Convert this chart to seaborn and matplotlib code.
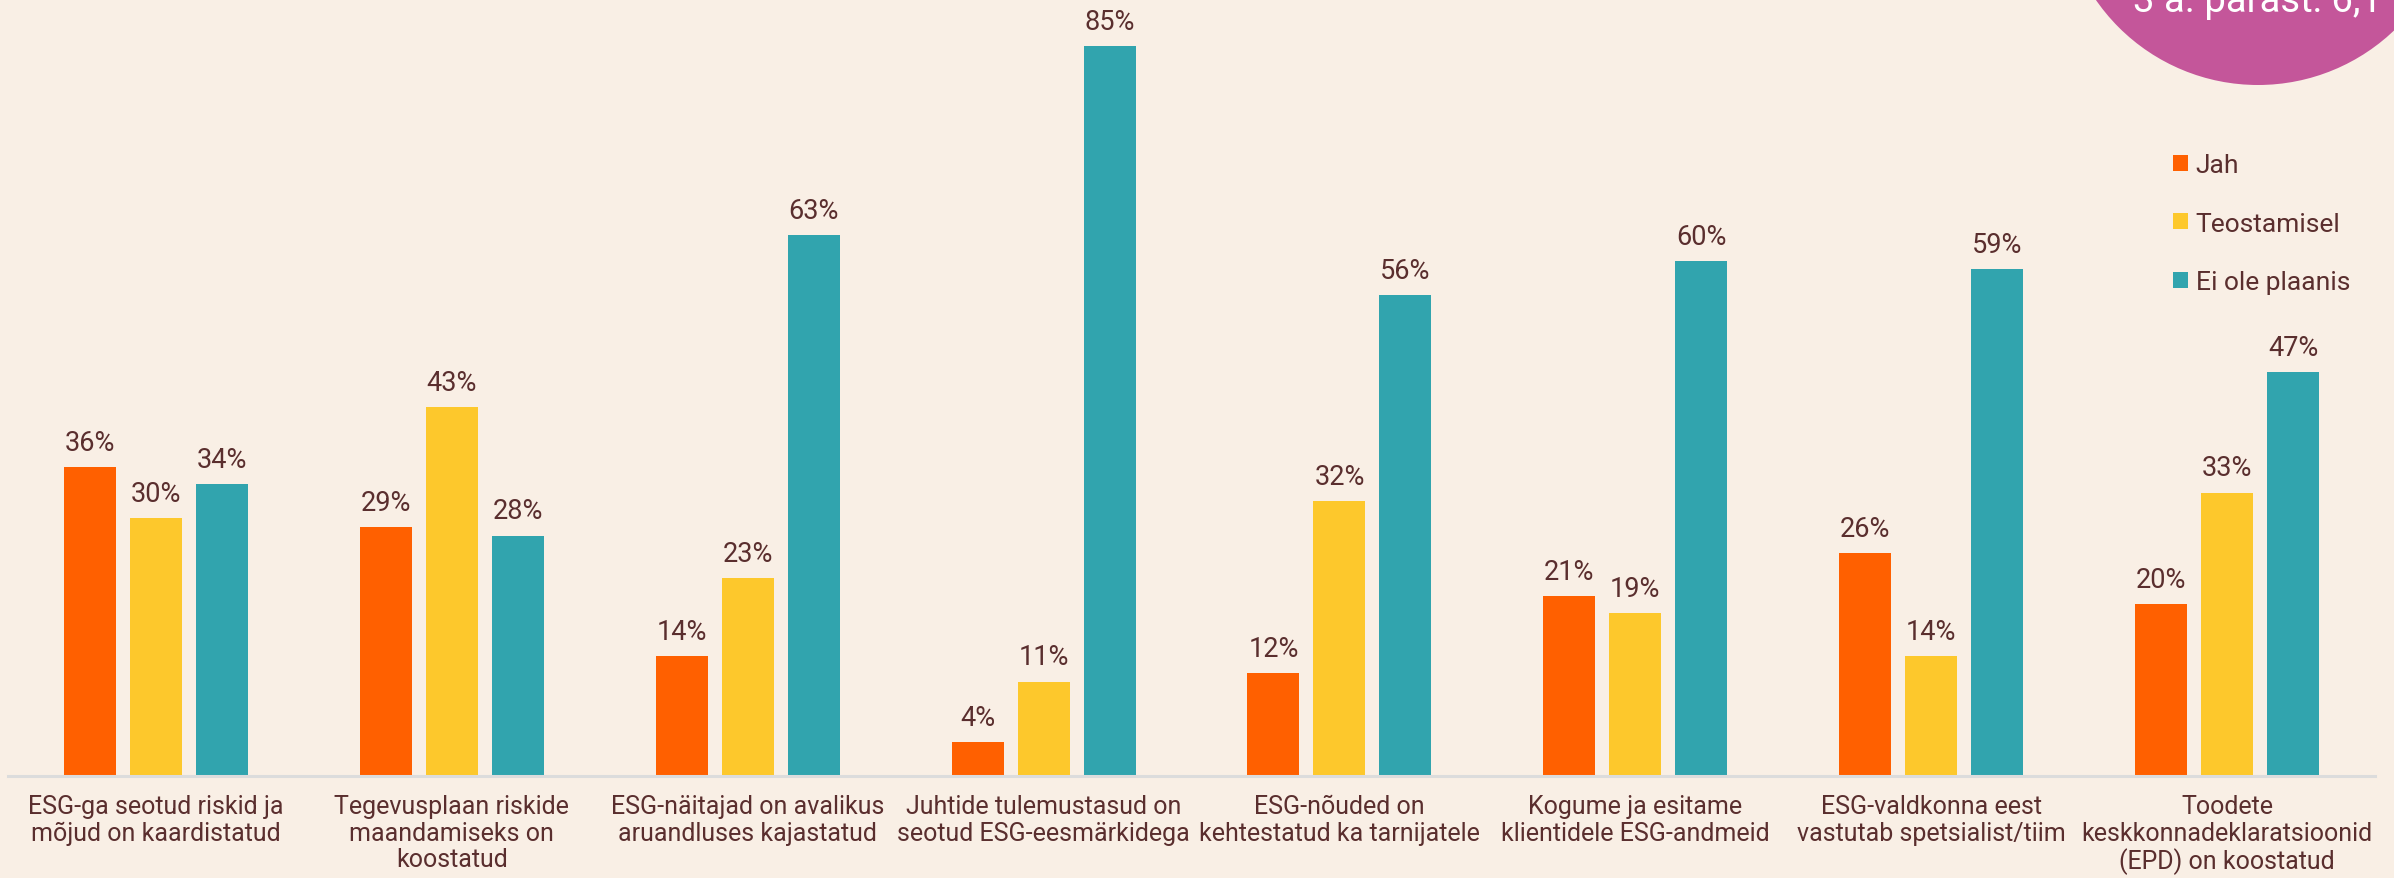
import matplotlib
matplotlib.use("Agg")
import matplotlib.pyplot as plt
from matplotlib.patches import Ellipse
import pandas as pd
import seaborn as sns

# survey answers, share of respondents (%)
categories = [
    "ESG-ga seotud riskid ja\nmõjud on kaardistatud",
    "Tegevusplaan riskide\nmaandamiseks on\nkoostatud",
    "ESG-näitajad on avalikus\naruandluses kajastatud",
    "Juhtide tulemustasud on\nseotud ESG-eesmärkidega",
    "ESG-nõuded on\nkehtestatud ka tarnijatele",
    "Kogume ja esitame\nklientidele ESG-andmeid",
    "ESG-valdkonna eest\nvastutab spetsialist/tiim",
    "Toodete\nkeskkonnadeklaratsioonid\n(EPD) on koostatud",
]
series_names = ["Jah", "Teostamisel", "Ei ole plaanis"]
jah = [36, 29, 14, 4, 12, 21, 26, 20]
teostamisel = [30, 43, 23, 11, 32, 19, 14, 33]
ei_ole_plaanis = [34, 28, 63, 85, 56, 60, 59, 47]
bubble_text = "3 a. pärast: 6,1"

colors = ["#ff6000", "#fdc82c", "#31a4ae"]
bg = "#f9efe5"
text_col = "#5a2e2e"

rows = []
for name, vals in zip(series_names, [jah, teostamisel, ei_ole_plaanis]):
    for cat, v in zip(categories, vals):
        rows.append({"kategooria": cat, "vastus": name, "osakaal": v})
df = pd.DataFrame(rows)

sns.set_style("white", {"axes.facecolor": bg, "figure.facecolor": bg})
plt.rcParams["font.family"] = ["Roboto", "DejaVu Sans"]
plt.rcParams["text.color"] = text_col

fig = plt.figure(figsize=(23.94, 8.79), dpi=100)
ax = fig.add_axes([8 / 2394, 102 / 879, (2375 - 8) / 2394, 1 - 102 / 879 - 4 / 879])

sns.barplot(data=df, x="kategooria", y="osakaal", hue="vastus", palette=colors,
            width=0.669, gap=0.212, linewidth=0, saturation=1, ax=ax)

for cont in ax.containers:
    ax.bar_label(cont, fmt="%d%%", padding=8, fontsize=19.5, color=text_col)

ax.set_xlim(-0.5, 7.5)
ax.set_ylim(0, 90)
ax.set_xlabel("")
ax.set_ylabel("")
ax.set_yticks([])
for s in ["top", "right", "left"]:
    ax.spines[s].set_visible(False)
ax.spines["bottom"].set_color("#dcdcdc")
ax.spines["bottom"].set_linewidth(2.2)
ax.tick_params(axis="x", length=0, pad=13)
for lab in ax.get_xticklabels():
    lab.set_fontsize(18)
    lab.set_color(text_col)
    lab.set_linespacing(1.14)

# legend rebuilt by hand so the font size sticks
handles, labels = ax.get_legend_handles_labels()
ax.get_legend().remove()
leg = ax.legend(handles, labels, loc="upper left",
                bbox_to_anchor=(2160 / 2394, 1 - 141 / 879),
                bbox_transform=fig.transFigure, frameon=False,
                prop={"family": ["Roboto", "DejaVu Sans"], "size": 19},
                handlelength=0.55, handleheight=0.55, handletextpad=0.3,
                labelspacing=1.31, borderpad=0)
for t in leg.get_texts():
    t.set_color(text_col)

# pink bubble cut by the top edge
fig.add_artist(Ellipse((2258 / 2394, 1 + 111 / 879), 2 * 197 / 2394, 2 * 197 / 879,
                       color="#c4569a", lw=0, transform=fig.transFigure))
fig.text(2133 / 2394, 1 - 12 / 879, bubble_text, color="white", fontsize=27.5,
         ha="left", va="baseline")

fig.savefig("out.png", dpi=100, facecolor=bg)
